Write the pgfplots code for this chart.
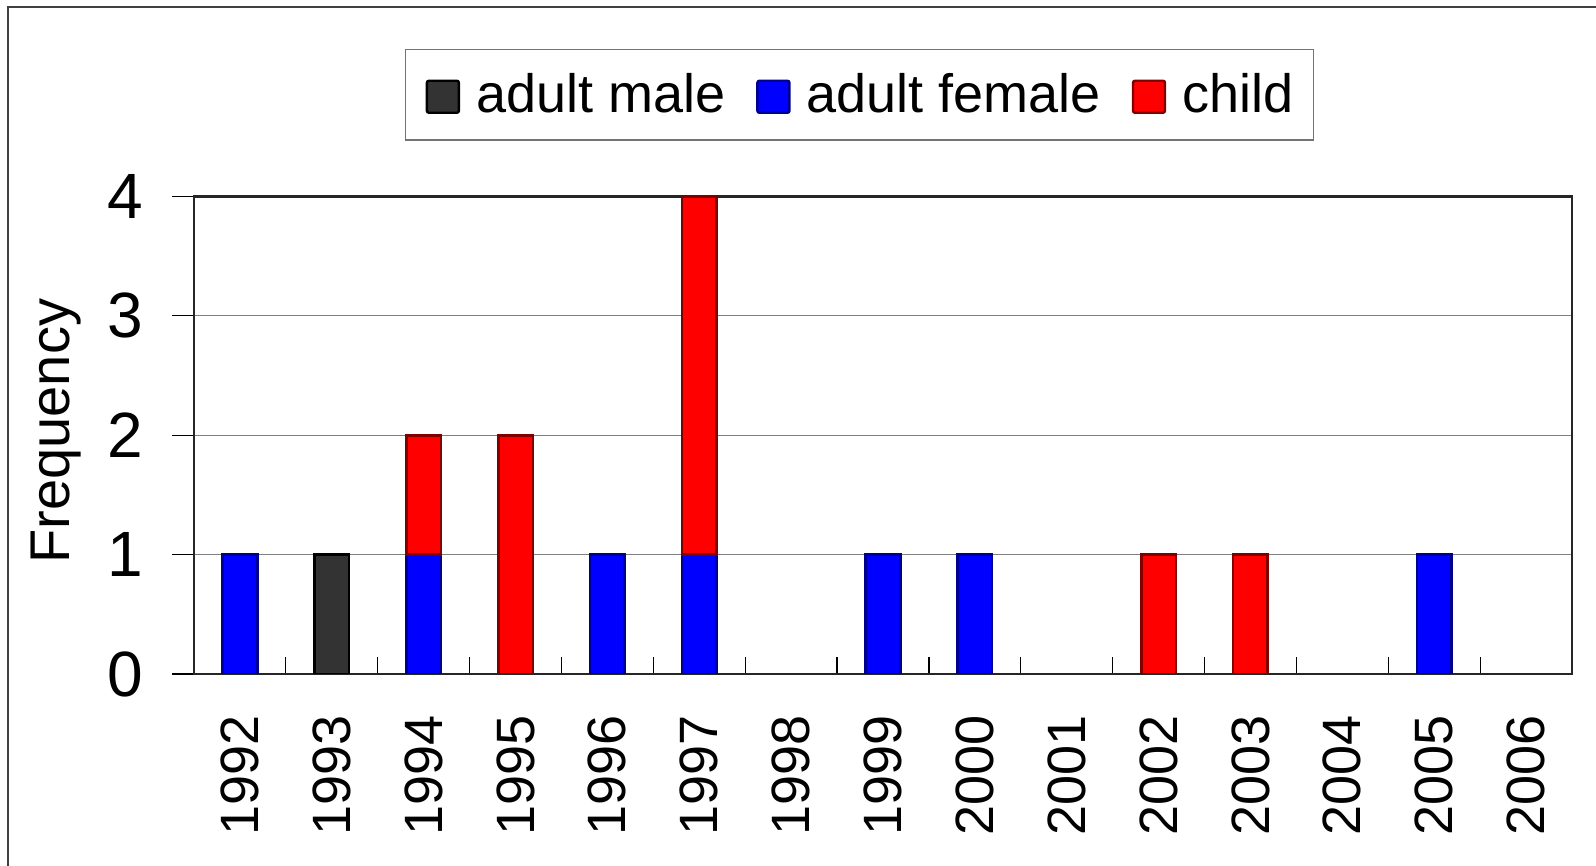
\documentclass[border=0pt]{standalone}
\usepackage{pgfplots}
\pgfplotsset{compat=1.18}
\usepackage{fontspec}
\setmainfont{Liberation Sans}
\definecolor{malefill}{HTML}{333333}
\definecolor{femfill}{HTML}{0000FF}
\definecolor{femedge}{HTML}{000090}
\definecolor{childfill}{HTML}{FF0000}
\definecolor{childedge}{HTML}{800000}
\pgfplotsset{
  sqlegend/.style={legend image code/.code={\draw[##1, line width=1.2pt, rounded corners=1pt] (0pt,-9pt) rectangle (16pt,7pt);}},
  mybar/.style={ybar, bar width=17.3pt, bar shift=0pt, line width=1.3pt, sqlegend},
  mystack/.style={ybar stacked, bar width=17.3pt, bar shift=0pt, line width=1.3pt, sqlegend},
}
\begin{document}
\begin{tikzpicture}
\useasboundingbox (-97pt,-96pt) rectangle (701pt,337pt);
\draw[line width=0.6pt, black!75] (-93pt,-96pt) -- (-93pt,333.5pt) -- (701pt,333.5pt);
% separator ticks between categories
\begin{axis}[at={(0pt,0pt)}, anchor=south west, scale only axis,
  width=689pt, height=238.75pt, xmin=-0.5, xmax=14.5, ymin=0, ymax=4,
  axis line style={draw=none}, ytick=\empty,
  xtick={0.5,1.5,...,13.5}, xticklabels={}, xtick pos=bottom,
  tick align=inside, major tick length=8.5pt,
  xtick style={line width=0.6pt, black}]
\end{axis}
\begin{axis}[at={(0pt,0pt)}, anchor=south west, scale only axis,
  width=689pt, height=238.75pt, xmin=-0.5, xmax=14.5, ymin=0, ymax=4,
  axis line style={line width=1.2pt, black!85},
  xtick={0,...,14},
  xticklabels={1992,1993,1994,1995,1996,1997,1998,1999,2000,2001,2002,2003,2004,2005,2006},
  xtick style={draw=none},
  xticklabel style={yshift=-9.7pt, font=\fontsize{27}{32}\selectfont, inner sep=0pt, anchor=east, rotate=90},
  ytick={0,1,2,3,4}, ytick pos=left, tick align=outside, major tick length=11pt,
  ytick style={line width=0.6pt, black},
  yticklabel style={xshift=-14.3pt, font=\fontsize{32}{38}\selectfont, inner sep=0pt, anchor=east},
  /pgf/number format/assume math mode=true,
  ymajorgrids, grid style={line width=0.6pt, black!50},
  every axis y label/.style={at={(axis description cs:0,0.5)}, xshift=-62pt, yshift=2pt, rotate=90, anchor=base, font=\fontsize{28}{34}\selectfont},
  ylabel={Frequency},
  legend columns=3,
  legend cell align=left,
  legend style={at={(axis description cs:0.1531,1.3089)}, anchor=north west,
    draw=black!55, line width=0.7pt, font=\fontsize{27}{32}\selectfont,
    inner xsep=10pt, inner ysep=12pt, nodes={inner sep=0pt},
    /tikz/every odd column/.append style={column sep=8pt},
    /tikz/every even column/.append style={column sep=15.5pt}},
]
\addplot[mybar, fill=malefill, draw=black] coordinates {(1,1)};
\addlegendentry{adult male}
\addplot[mybar, fill=femfill, draw=femedge] coordinates {(0,1) (4,1) (7,1) (8,1) (13,1)};
\addlegendentry{adult female}
\addplot[mybar, fill=childfill, draw=childedge] coordinates {(3,2) (10,1) (11,1)};
\addlegendentry{child}
\addplot[mystack, fill=femfill, draw=femedge, forget plot] coordinates {(2,1) (5,1)};
\addplot[mystack, fill=childfill, draw=childedge, forget plot] coordinates {(2,1) (5,3)};
\end{axis}
\end{tikzpicture}
\end{document}
